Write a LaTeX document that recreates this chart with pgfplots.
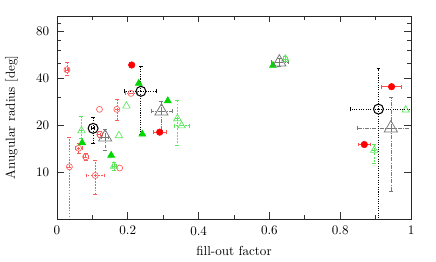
\documentclass[border=0pt]{standalone}
\usepackage{pgfplots}
\pgfplotsset{compat=1.18}
\definecolor{redf}{RGB}{255,0,0}
\definecolor{redo}{RGB}{255,90,90}
\definecolor{greenf}{RGB}{0,215,0}
\definecolor{greeno}{RGB}{90,230,90}
\definecolor{greyt}{RGB}{120,120,120}
\begin{document}
\begin{tikzpicture}
\begin{axis}[
  scale only axis, width=270.8pt, height=155.3pt,
  xmin=0, xmax=1, ymode=log, ymin=5, ymax=100,
  xtick={0,0.2,0.4,0.6,0.8,1}, xticklabels={0,0.2,0.4,0.6,0.8,1}, minor x tick num=1,
  ytick={10,20,40,80}, yticklabels={10,20,40,80}, minor ytick={30,50,60,70,90},
  major tick length=5pt, minor tick length=3pt,
  tick align=inside,
  axis line style={line width=0.6pt, black!85},
  every tick/.style={black!80, line width=0.5pt},
  xticklabel style={yshift=-2pt},
  yticklabel style={xshift=-2.5pt},
  xlabel={fill-out factor}, ylabel={Anugular radius [deg]},
  xlabel style={at={(axis description cs:0.5,-0.156)}, anchor=center},
  ylabel style={at={(axis description cs:-0.128,0.5)}, anchor=center},
  clip=true,
]
% red open circles, no error bars
\addplot[only marks, mark=o, mark size=2.3pt, color=redo, mark options={line width=0.5pt}]
 table[x=x,y=y]{
x y
0.12 25.2
0.177 10.6
};
% red open circles with error bars
\addplot[only marks, mark=o, mark size=2.3pt, color=redo, mark options={solid, line width=0.5pt},
  error bars/.cd, x dir=both, y dir=both, x explicit, y explicit,
  error bar style={redo, line width=0.4pt, dash pattern=on 1.2pt off 1pt},
  error mark options={rotate=90, mark size=1.5pt, solid, line width=0.4pt, redo}]
 table[x=x,y=y,x error plus=exp,x error minus=exm,y error plus=eyp,y error minus=eym]{
x y exp exm eyp eym
0.028 45.2 0.004 0.004 5 3.5
0.035 10.8 0 0 6 7.8
0.061 14.2 0.01 0.01 1 1
0.081 12.5 0.008 0.008 0.6 0.6
0.121 17.4 0.006 0.006 0.8 0.8
0.108 9.5 0.025 0.025 2.4 2.3
0.169 25.2 0 0 4 3.7
0.209 31.9 0.017 0.017 0 0
};
% green open triangles, no error bars
\addplot[only marks, mark=triangle, mark size=3.3pt, color=greeno, mark options={line width=0.5pt}]
 table[x=x,y=y]{
x y
0.175 17.1
0.196 26.5
0.985 25
};
% green open triangles with error bars
\addplot[only marks, mark=triangle, mark size=3.3pt, color=greeno, mark options={solid, line width=0.5pt},
  error bars/.cd, x dir=both, y dir=both, x explicit, y explicit,
  error bar style={greeno, line width=0.4pt, dash pattern=on 1.5pt off 1pt},
  error mark options={rotate=90, mark size=1.5pt, solid, line width=0.4pt, greeno}]
 table[x=x,y=y,x error plus=exp,x error minus=exm,y error plus=eyp,y error minus=eym]{
x y exp exm eyp eym
0.069 18.4 0 0 4.4 2
0.161 10.9 0.005 0.005 0.6 0.6
0.34 22 0 0 7 7.1
0.352 19.8 0.022 0.022 0 0
0.645 53 0.005 0.005 2 2
0.896 13.8 0 0 1.3 2.4
};
% red filled circles
\addplot[only marks, mark=*, mark size=2.5pt, color=redf]
 table[x=x,y=y]{
x y
0.211 48.5
};
\addplot[only marks, mark=*, mark size=2.5pt, color=redf,
  error bars/.cd, x dir=both, x explicit,
  error bar style={redf!70, line width=0.4pt},
  error mark options={rotate=90, mark size=1.5pt, line width=0.4pt, redf!70}]
 table[x=x,y=y,x error plus=exp,x error minus=exm]{
x y exp exm
0.29 18.0 0.018 0.018
0.945 35.2 0.028 0.028
0.868 15.0 0.018 0.018
};
% green filled triangles
\addplot[only marks, mark=triangle*, mark size=3.1pt, color=greenf]
 table[x=x,y=y]{
x y
0.071 15.4
0.153 12.8
0.231 37
0.241 17.5
0.313 28.6
0.61 48.2
};
% grey triangles
\addplot[only marks, mark=triangle, mark size=5.8pt, color=greyt, mark options={solid, line width=0.6pt},
  error bars/.cd, x dir=both, y dir=both, x explicit, y explicit,
  error bar style={greyt, line width=0.5pt, dash pattern=on 3pt off 1pt on 0.6pt off 1pt},
  error mark options={rotate=90, mark size=1.5pt, solid, line width=0.4pt, greyt}]
 table[x=x,y=y,x error plus=exp,x error minus=exm,y error plus=eyp,y error minus=eym]{
x y exp exm eyp eym
0.136 16.7 0.01 0.01 2.2 3
0.295 24.5 0.031 0.028 3.9 5.9
0.628 50.5 0.024 0.024 3 3
0.943 19.1 0.1 0.095 10.9 11.6
};
% black circles
\addplot[only marks, mark=o, mark size=3.8pt, color=black, mark options={solid, line width=0.8pt},
  error bars/.cd, x dir=both, y dir=both, x explicit, y explicit,
  error bar style={black, line width=0.8pt, dash pattern=on 0.8pt off 1pt},
  error mark options={rotate=90, mark size=1.5pt, solid, line width=0.6pt, black}]
 table[x=x,y=y,x error plus=exp,x error minus=exm,y error plus=eyp,y error minus=eym]{
x y exp exm eyp eym
0.102 19.05 0.005 0.005 3.5 3.75
0.237 32.9 0.045 0.047 14.8 15.6
0.908 25.3 0.12 0.08 20.7 22.5
};
\end{axis}
\pgfresetboundingbox
\path[use as bounding box] ([shift={(-43.6pt,-32.9pt)}]current axis.south west) rectangle ([shift={(19.1pt,12.2pt)}]current axis.north east);
\end{tikzpicture}
\end{document}
